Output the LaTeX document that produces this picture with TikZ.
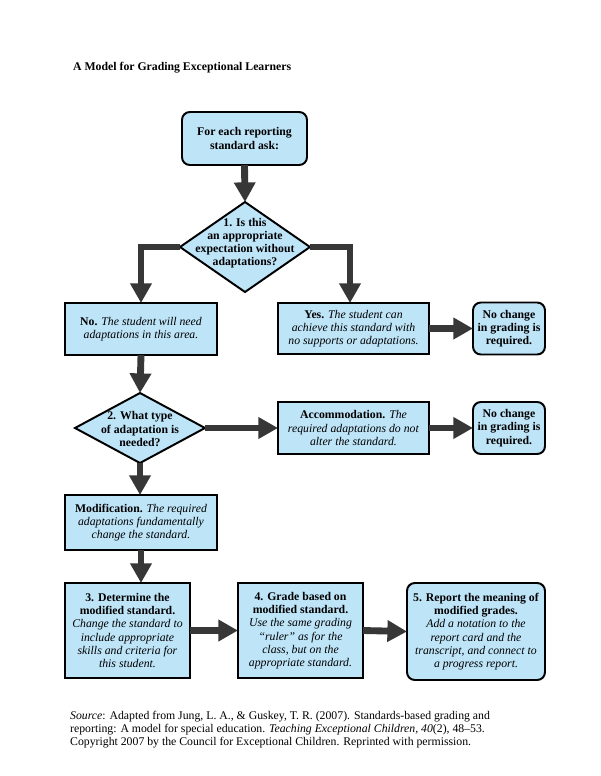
\documentclass[tikz,border=0pt]{standalone}
\usepackage{fontspec}
\setmainfont{Liberation Serif}
\usetikzlibrary{arrows.meta,shapes.geometric,calc}
\newlength\pu
\setlength\pu{1.02pt}
\definecolor{boxfill}{RGB}{190,228,248}
\definecolor{arrgray}{RGB}{55,55,55}
\begin{document}
\begin{tikzpicture}[x=1.02pt,y=-1.02pt,
  font=\fontsize{12}{13.6}\selectfont,
  box/.style={draw=black, line width=2pt, fill=boxfill, align=center, inner sep=0pt, outer sep=0pt, font=\fontsize{12}{13.6}\selectfont},
  rbox/.style={box, rounded corners=8pt},
  dia/.style={draw=black, line width=2pt, fill=boxfill, diamond, inner sep=0pt, outer sep=0pt},
  dtext/.style={align=center, font=\fontsize{12}{13.4}\selectfont\bfseries, inner sep=0pt},
  arr/.style={draw=arrgray, line width=7pt, -{Triangle[width=21pt,length=20pt]}},
]
\useasboundingbox[fill=white] (0,0) rectangle (600,776);

\node[anchor=base west, inner sep=0pt, font=\fontsize{12}{14}\selectfont\bfseries] (title) at (73,70) {A Model for Grading Exceptional Learners};

\node[rbox, minimum width=125*\pu, minimum height=53*\pu, font=\fontsize{12}{13.6}\selectfont\bfseries] (start) at (244.5,138.5) {For each reporting\\standard ask:};

\node[dia, minimum width=130*\pu, minimum height=90*\pu] (d1) at (245,247) {};
\node[dtext] (d1t) at (245,243) {1. Is this\\an appropriate\\expectation without\\adaptations?};

\node[box, minimum width=152*\pu, minimum height=52*\pu] (no) at (141,329) {\textbf{No.} \textit{The student will need}\\\textit{adaptations in this area.}};

\node[box, minimum width=151*\pu, minimum height=51*\pu] (yes) at (353.5,328.5) {\textbf{Yes.} \textit{The student can}\\\textit{achieve this standard with}\\\textit{no supports or adaptations.}};
\coordinate (yesin) at (350,303);

\node[rbox, minimum width=72*\pu, minimum height=52*\pu, font=\fontsize{12}{13.6}\selectfont\bfseries] (nc1) at (509,328.5) {No change\\in grading is\\required.};

\node[dia, minimum width=130*\pu, minimum height=70*\pu] (d2) at (140,428) {};
\node[dtext] (d2t) at (140,429) {2. What type\\of adaptation is\\needed?};

\node[box, minimum width=151*\pu, minimum height=52*\pu] (acc) at (353.5,428) {\textbf{Accommodation.} \textit{The}\\\textit{required adaptations do not}\\\textit{alter the standard.}};

\node[rbox, minimum width=72*\pu, minimum height=52*\pu, font=\fontsize{12}{13.6}\selectfont\bfseries] (nc2) at (509,428) {No change\\in grading is\\required.};

\node[box, minimum width=152*\pu, minimum height=55*\pu] (mod) at (141,522.5) {\textbf{Modification.} \textit{The required}\\\textit{adaptations fundamentally}\\\textit{change the standard.}};

\node[box, minimum width=125*\pu, minimum height=95*\pu] (b3) at (127.5,630.5) {\textbf{3. Determine the}\\\textbf{modified standard.}\\\textit{Change the standard to}\\\textit{include appropriate}\\\textit{skills and criteria for}\\\textit{this student.}};

\node[box, minimum width=125*\pu, minimum height=95*\pu] (b4) at (300.5,630.5) {\textbf{4. Grade based on}\\\textbf{modified standard.}\\\textit{Use the same grading}\\\textit{“ruler” as for the}\\\textit{class, but on the}\\\textit{appropriate standard.}};

\node[rbox, minimum width=138*\pu, minimum height=97*\pu] (b5) at (476,631.5) {\textbf{5. Report the meaning of}\\\textbf{modified grades.}\\\textit{Add a notation to the}\\\textit{report card and the}\\\textit{transcript, and connect to}\\\textit{a progress report.}};

\node[anchor=north west, inner sep=0pt, align=left, font=\fontsize{12}{13.3}\selectfont] (src) at (70,711) {\textit{Source}: Adapted from Jung, L. A., \& Guskey, T. R. (2007). Standards-based grading and\\reporting: A model for special education. \textit{Teaching Exceptional Children, 40}(2), 48–53.\\Copyright 2007 by the Council for Exceptional Children. Reprinted with permission.};

\draw[arr] (start.south) -- (d1.north);
\draw[arr] (d1.west) -| (no.north);
\draw[arr] (d1.east) -| (yesin);
\draw[arr] (yes.east) -- (nc1.west);
\draw[arr] (no.south) -- (d2.north);
\draw[arr] (d2.east) -- (acc.west);
\draw[arr] (acc.east) -- (nc2.west);
\draw[arr] (d2.south) -- (d2.south |- mod.north);
\draw[arr] (mod.south) -- (mod.south |- b3.north);
\draw[arr] (b3.east) -- (b4.west);
\draw[arr] (b4.east) -- (b5.west);
\end{tikzpicture}
\end{document}
